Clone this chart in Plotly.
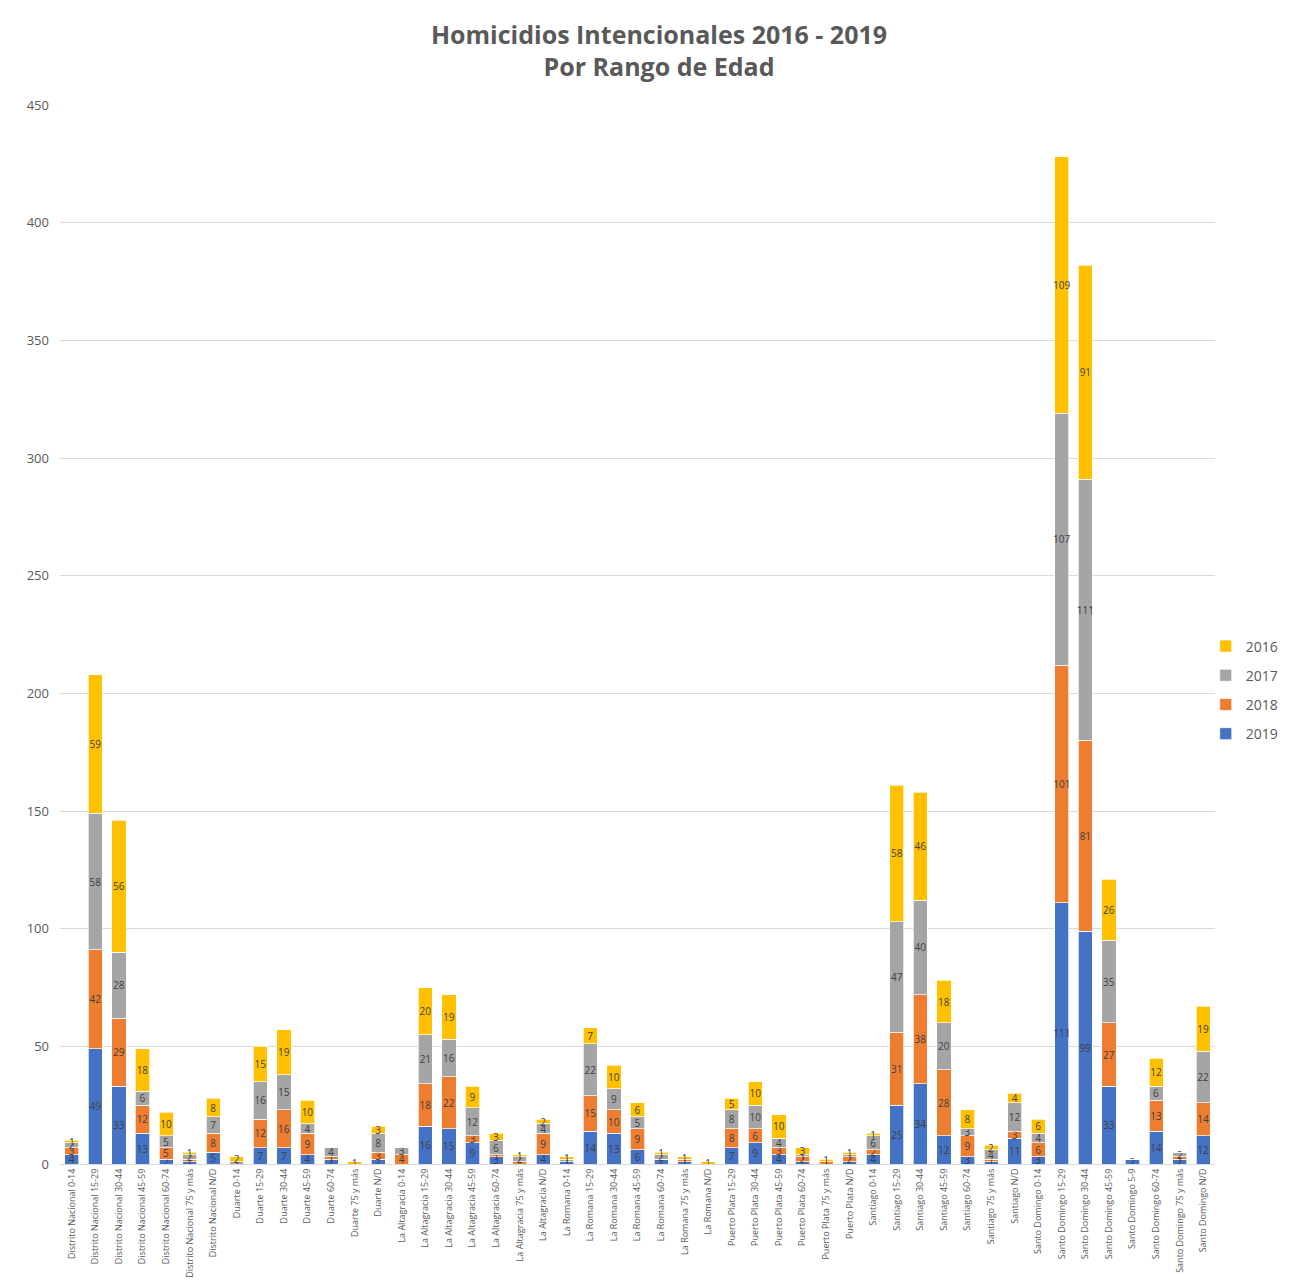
import plotly.graph_objects as go

categories = [
    "Distrito Nacional 0-14", "Distrito Nacional 15-29", "Distrito Nacional 30-44",
    "Distrito Nacional 45-59", "Distrito Nacional 60-74", "Distrito Nacional 75 y más",
    "Distrito Nacional N/D",
    "Duarte 0-14", "Duarte 15-29", "Duarte 30-44", "Duarte 45-59", "Duarte 60-74",
    "Duarte 75 y más", "Duarte N/D",
    "La Altagracia 0-14", "La Altagracia 15-29", "La Altagracia 30-44", "La Altagracia 45-59",
    "La Altagracia 60-74", "La Altagracia 75 y más", "La Altagracia N/D",
    "La Romana 0-14", "La Romana 15-29", "La Romana 30-44", "La Romana 45-59",
    "La Romana 60-74", "La Romana 75 y más", "La Romana N/D",
    "Puerto Plata 15-29", "Puerto Plata 30-44", "Puerto Plata 45-59", "Puerto Plata 60-74",
    "Puerto Plata 75 y más", "Puerto Plata N/D",
    "Santiago 0-14", "Santiago 15-29", "Santiago 30-44", "Santiago 45-59", "Santiago 60-74",
    "Santiago 75 y más", "Santiago N/D",
    "Santo Domingo 0-14", "Santo Domingo 15-29", "Santo Domingo 30-44", "Santo Domingo 45-59",
    "Santo Domingo 5-9", "Santo Domingo 60-74", "Santo Domingo 75 y más", "Santo Domingo N/D",
]

v2019 = [4, 49, 33, 13, 2, 1, 5,
         0, 7, 7, 4, 2, 0, 2,
         0, 16, 15, 9, 3, 0, 4,
         1, 14, 13, 6, 2, 1, 0,
         7, 9, 4, 1, 0, 1,
         4, 25, 34, 12, 3, 1, 11,
         3, 111, 99, 33, 2, 14, 2, 12]
v2018 = [3, 42, 29, 12, 5, 1, 8,
         0, 12, 16, 9, 1, 0, 3,
         4, 18, 22, 3, 1, 1, 9,
         0, 15, 10, 9, 0, 1, 0,
         8, 6, 3, 2, 1, 2,
         2, 31, 38, 28, 9, 1, 3,
         6, 101, 81, 27, 0, 13, 1, 14]
v2017 = [2, 58, 28, 6, 5, 2, 7,
         1, 16, 15, 4, 4, 0, 8,
         3, 21, 16, 12, 6, 2, 4,
         1, 22, 9, 5, 2, 0, 0,
         8, 10, 4, 1, 0, 1,
         6, 47, 40, 20, 3, 4, 12,
         4, 107, 111, 35, 0, 6, 2, 22]
v2016 = [1, 59, 56, 18, 10, 1, 8,
         2, 15, 19, 10, 0, 1, 3,
         0, 20, 19, 9, 3, 1, 2,
         1, 7, 10, 6, 1, 1, 1,
         5, 10, 10, 3, 1, 1,
         1, 58, 46, 18, 8, 2, 4,
         6, 109, 91, 26, 0, 12, 0, 19]

series = [("2019", v2019, "#4472C4", 4),
          ("2018", v2018, "#ED7D31", 3),
          ("2017", v2017, "#A5A5A5", 2),
          ("2016", v2016, "#FFC000", 1)]

fig = go.Figure()
for name, vals, color, rank in series:
    fig.add_trace(go.Bar(
        x=categories, y=vals, name=name, legendgroup=name, legendrank=rank,
        marker=dict(color=color, line=dict(color="white", width=0.7)),
        text=vals, textposition="inside", insidetextanchor="middle",
        textangle=0, constraintext="none",
        textfont=dict(size=10, color="#404040", family="Open Sans"),
        hoverinfo="x+y+name",
    ))

# page body adds an 8px offset; figure sized so that plot matches the reference
fig.update_layout(
    barmode="stack",
    bargap=0.4,
    width=1293, height=1278,
    paper_bgcolor="white", plot_bgcolor="white",
    margin=dict(l=52, r=86, t=97, b=122, autoexpand=False),
    title=dict(
        text="<b>Homicidios Intencionales 2016 - 2019<br>Por Rango de Edad</b>",
        x=0.5035, xanchor="center", y=0.972, yanchor="top",
        font=dict(size=25, color="#595959", family="Open Sans"),
    ),
    uniformtext=dict(minsize=10, mode="show"),
    legend=dict(
        x=0.992, y=0.4476, xanchor="left", yanchor="middle",
        font=dict(size=14, color="#595959", family="Open Sans"),
        tracegroupgap=8, traceorder="grouped",
        itemwidth=30, bgcolor="rgba(0,0,0,0)",
    ),
    yaxis=dict(
        range=[0, 450], dtick=50, showgrid=True, gridcolor="#D9D9D9", gridwidth=1,
        tickfont=dict(size=13, color="#595959", family="Open Sans"),
        zeroline=False, showline=False, ticks="", ticklabelstandoff=10,
    ),
    xaxis=dict(
        tickangle=-90, tickfont=dict(size=9, color="#595959", family="Open Sans"),
        showline=True, linecolor="#D9D9D9", linewidth=1, ticks="",
        categoryorder="array", categoryarray=categories, automargin=False,
    ),
)

fig.write_html("out.html")
